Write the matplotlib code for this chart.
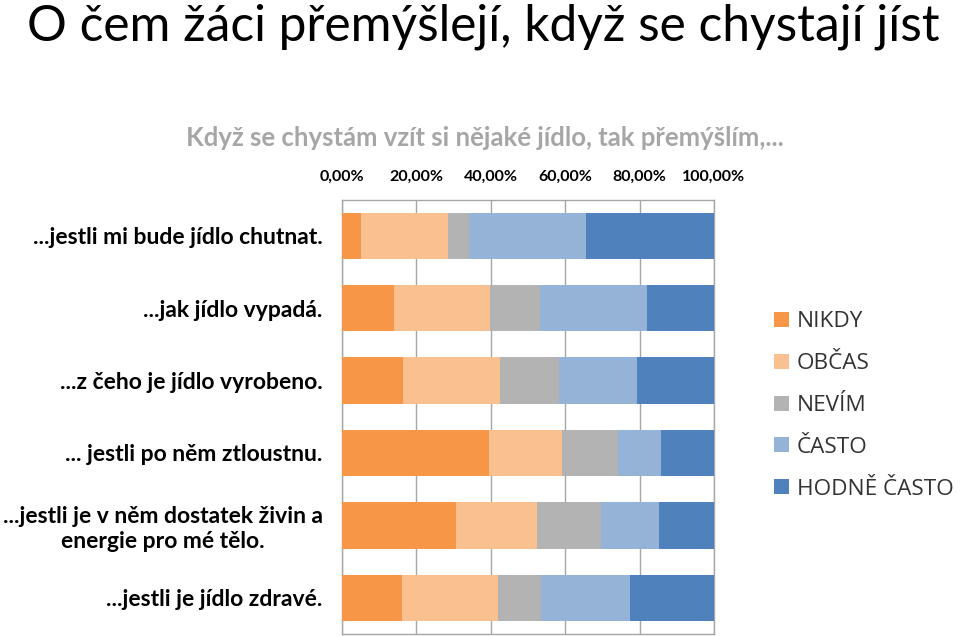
import matplotlib.pyplot as plt
import numpy as np

plt.rcParams['font.family'] = ['Lato', 'DejaVu Sans']

categories = ['...jestli mi bude jídlo chutnat.',
              '...jak jídlo vypadá.',
              '...z čeho je jídlo vyrobeno.',
              '... jestli po něm ztloustnu.',
              '...jestli je v něm dostatek živin a\nenergie pro mé tělo.',
              '...jestli je jídlo zdravé.']
series = ['NIKDY', 'OBČAS', 'NEVÍM', 'ČASTO', 'HODNĚ ČASTO']
colors = ['#F79646', '#FAC090', '#B3B3B3', '#95B3D7', '#4F81BD']

nikdy = [5.2, 14.0, 16.4, 39.4, 30.6, 16.0]
obcas = [23.4, 25.8, 26.1, 19.8, 21.9, 26.0]
nevim = [5.5, 13.4, 15.9, 15.1, 17.0, 11.6]
casto = [31.4, 28.7, 20.8, 11.5, 15.7, 23.8]
hodne = [34.5, 18.1, 20.8, 14.2, 14.8, 22.6]
values = [nikdy, obcas, nevim, casto, hodne]

ticks = [0, 20, 40, 60, 80, 100]
tick_labels = ['0,00%', '20,00%', '40,00%', '60,00%', '80,00%', '100,00%']

fig = plt.figure(figsize=(9.6, 6.36), dpi=100)
ax = fig.add_axes([0.35625, 0.0031, 0.3875, 0.6832])

y = np.arange(len(categories))
left = np.zeros(len(categories))
handles = []
for name, vals, col in zip(series, values, colors):
    b = ax.barh(y, vals, left=left, height=0.64, color=col, label=name, zorder=3)
    handles.append(b)
    left += np.array(vals)

ax.set_xlim(0, 100)
ax.set_ylim(len(categories) - 0.5, -0.5)
ax.xaxis.tick_top()
ax.set_xticks(ticks)
ax.set_xticklabels(tick_labels, fontsize=11.5, fontweight='bold')
ax.tick_params(axis='x', length=0, pad=11)
ax.set_yticks(y)
ax.set_yticklabels(categories, fontsize=16.5, fontweight='bold', ma='center')
ax.tick_params(axis='y', length=0, pad=14)
ax.grid(axis='x', color='#A6A6A6', linewidth=1, zorder=0)
for s in ax.spines.values():
    s.set_color('#A6A6A6')
    s.set_linewidth(1)

fig.text(0.028, 0.995, 'O čem žáci přemýšlejí, když se chystají jíst',
         fontsize=35.7, ha='left', va='top')
fig.text(0.505, 0.783, 'Když se chystám vzít si nějaké jídlo, tak přemýšlím,...',
         fontsize=18.5, fontweight='bold', color='#A6A6A6', ha='center', va='center')

leg = fig.legend(handles, series, loc='upper left', bbox_to_anchor=(0.797, 0.525),
                 frameon=False, fontsize=16.2, handlelength=0.65, handleheight=0.65,
                 handletextpad=0.35, labelspacing=0.93, borderaxespad=0)
for t in leg.get_texts():
    t.set_family(['Open Sans', 'DejaVu Sans'])
    t.set_color('#333333')

fig.savefig('out.png', dpi=100)
